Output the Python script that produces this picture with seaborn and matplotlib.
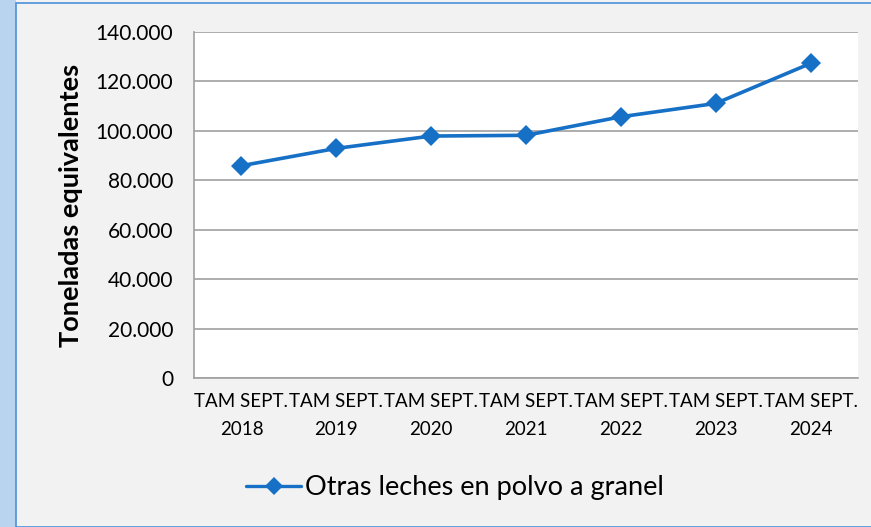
import pandas as pd
import matplotlib.pyplot as plt
import matplotlib.patches as mpatches
import seaborn as sns

# data
periods = ["TAM SEPT.\n2018", "TAM SEPT.\n2019", "TAM SEPT.\n2020", "TAM SEPT.\n2021",
           "TAM SEPT.\n2022", "TAM SEPT.\n2023", "TAM SEPT.\n2024"]
toneladas = [85900, 92900, 97900, 98200, 105700, 111100, 127300]
series_name = "Otras leches en polvo a granel"

df = pd.DataFrame({"periodo": periods, "toneladas": toneladas, "serie": series_name})

sns.set_style("white")
plt.rcParams["font.family"] = ["Lato", "DejaVu Sans"]
plt.rcParams["text.color"] = "black"
plt.rcParams["axes.labelcolor"] = "black"
plt.rcParams["xtick.color"] = "black"
plt.rcParams["ytick.color"] = "black"

fig = plt.figure(figsize=(8.71, 5.27), dpi=100)
fig.patch.set_facecolor("#f2f2f2")

# left decorative strip + blue frame
fig.patches.append(mpatches.Rectangle((0, 0), 16 / 871, 1, transform=fig.transFigure,
                                      facecolor="#b8d4ee", edgecolor="none", zorder=0))
fig.patches.append(mpatches.Rectangle((16 / 871, 0), 1, 1 - 3 / 527, transform=fig.transFigure,
                                      facecolor="none", edgecolor="#4a90d9", linewidth=1.2, zorder=1))

ax = fig.add_axes([194 / 871, 1 - 378 / 527, 664 / 871, 346 / 527])
ax.set_facecolor("white")

sns.lineplot(data=df, x="periodo", y="toneladas", hue="serie", palette=["#1570c6"],
             marker="D", markersize=10, markeredgewidth=0, linewidth=2.6, sort=False, ax=ax)

ax.set_ylim(0, 140000)
ax.set_xlim(-0.5, len(periods) - 0.5)
ax.set_yticks(range(0, 140001, 20000))
ax.set_yticklabels(["0"] + [f"{v // 1000}.000" for v in range(20000, 140001, 20000)], fontsize=15)
ax.set_xticks(range(len(periods)))
ax.set_xticklabels(periods, fontsize=13.5, linespacing=1.8)
ax.tick_params(axis="x", length=0, pad=11)
ax.tick_params(axis="y", length=0, pad=15)
ax.grid(axis="y", color="#a0a0a0", linewidth=1.2)
ax.set_axisbelow(True)

for side in ["top", "right"]:
    ax.spines[side].set_visible(False)
for side in ["left", "bottom"]:
    ax.spines[side].set_color("#a0a0a0")
    ax.spines[side].set_linewidth(1.2)

ax.set_xlabel("")
ax.set_ylabel("Toneladas equivalentes", fontsize=19.5, fontweight="bold", labelpad=9)

handles, labels = ax.get_legend_handles_labels()
for h in handles:
    h.set_markersize(9)
    h.set_linewidth(2.4)
ax.legend(handles, labels, loc="center", bbox_to_anchor=(455 / 871, 1 - 488 / 527),
          bbox_transform=fig.transFigure, frameon=False, fontsize=19.5,
          handlelength=2.0, handletextpad=0.15)

fig.savefig("out.png", dpi=100)
